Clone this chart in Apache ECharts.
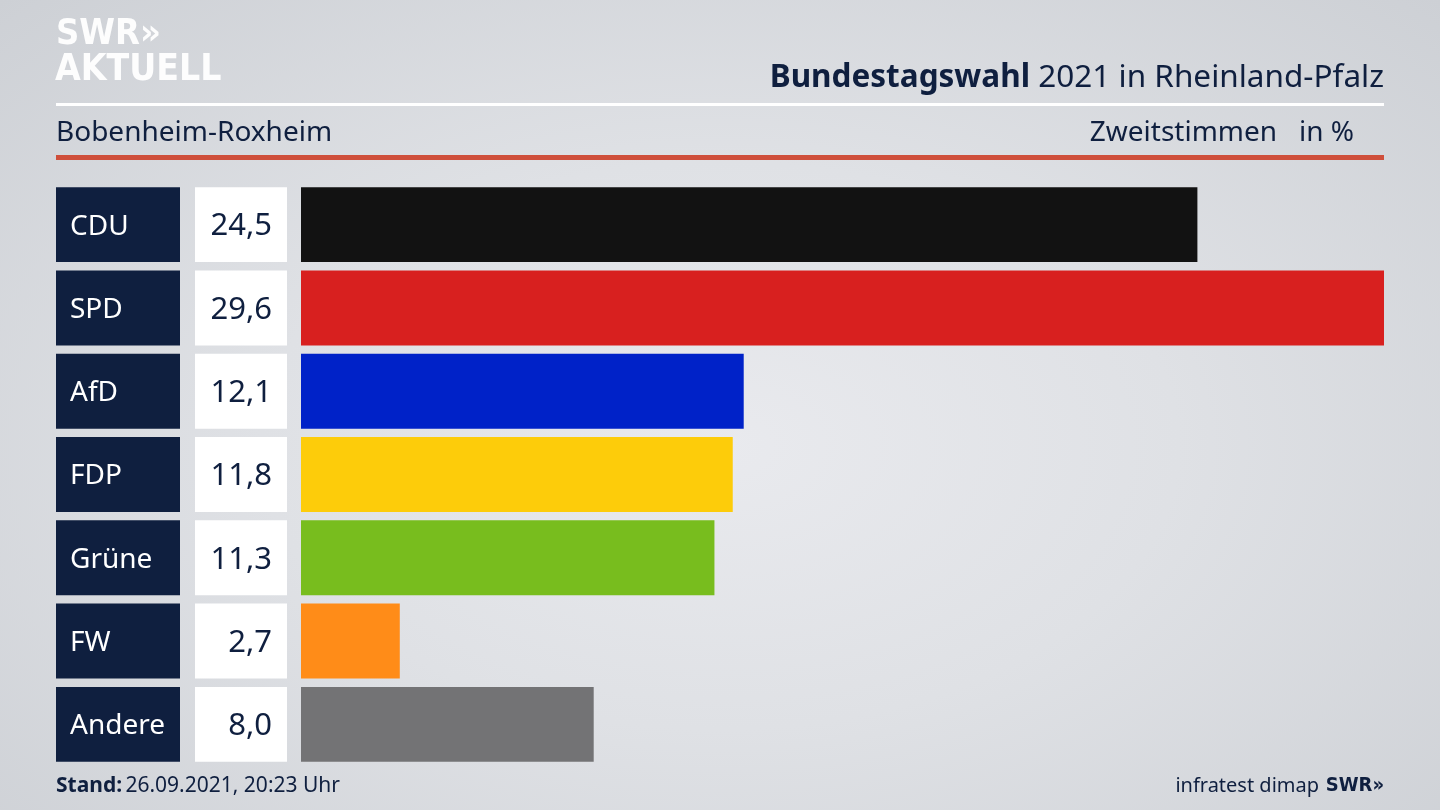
<!DOCTYPE html>
<html><head><meta charset="utf-8">
<script src="https://cdn.jsdelivr.net/npm/echarts@6/dist/echarts.min.js"></script>
<style>
html,body{margin:0;padding:0;width:1440px;height:810px;overflow:hidden;}
#c{width:1440px;height:810px;background:radial-gradient(ellipse at 50% 55%, #e9eaee 0%, #dfe1e5 45%, #cdd0d5 100%);}
</style></head>
<body><div id="c"></div>
<script>
const parties = ['CDU','SPD','AfD','FDP','Grüne','FW','Andere'];
const values = [24.5, 29.6, 12.1, 11.8, 11.3, 2.7, 8.0];
const colors = ['#121212','#d8201f','#0022c8','#fdcc0a','#78bd1e','#ff8c18','#737375'];
const title = 'Bundestagswahl';
const subtitle = ' 2021 in Rheinland-Pfalz';
const place = 'Bobenheim-Roxheim';
const measure = 'Zweitstimmen   in %';
const stand = '26.09.2021, 20:23 Uhr';

(function(){
const NAVY = '#0f1f3f';
const FONT = '"Noto Sans", "Open Sans", sans-serif';
const fmt = v => v.toFixed(1).replace('.', ',');
const chart = echarts.init(document.getElementById('c'), null, {renderer:'canvas'});
const gTop = 183, gBottom = 44;
const yCommon = {type:'category', data:parties, inverse:true, show:false};
const xOne = {type:'value', min:0, max:1, show:false};
chart.setOption({
  animation:false,
  grid:[
    {left:301, right:56, top:gTop, bottom:gBottom},
    {left:56, width:124, top:gTop, bottom:gBottom},
    {left:195, width:92, top:gTop, bottom:gBottom}
  ],
  xAxis:[
    {type:'value', min:0, max:29.6, show:false, gridIndex:0},
    Object.assign({gridIndex:1}, xOne),
    Object.assign({gridIndex:2}, xOne)
  ],
  yAxis:[
    Object.assign({gridIndex:0}, yCommon),
    Object.assign({gridIndex:1}, yCommon),
    Object.assign({gridIndex:2}, yCommon)
  ],
  series:[
    {type:'bar', xAxisIndex:0, yAxisIndex:0, barCategoryGap:'10%',
     data: values.map((v,i)=>({value:v, itemStyle:{color:colors[i]}}))},
    {type:'bar', xAxisIndex:1, yAxisIndex:1, barCategoryGap:'10%',
     data: parties.map(()=>1), itemStyle:{color:NAVY},
     label:{show:true, position:'insideLeft', distance:14, offset:[0,2], color:'#ffffff', fontSize:28, fontFamily:FONT,
            formatter:p=>parties[p.dataIndex]}},
    {type:'bar', xAxisIndex:2, yAxisIndex:2, barCategoryGap:'10%',
     data: values.map(()=>1), itemStyle:{color:'#ffffff'},
     label:{show:true, position:'insideRight', distance:15, offset:[0,2], color:NAVY, fontSize:31, fontFamily:FONT,
            formatter:p=>fmt(values[p.dataIndex])}}
  ],
  graphic:[
    {type:'text', left:56, top:17, style:{text:'SWR»', fill:'rgba(255,255,255,0.95)', font:'bold 36px "DejaVu Sans Condensed", "DejaVu Sans", sans-serif'}},
    {type:'text', left:55, top:52, style:{text:'AKTUELL', fill:'rgba(255,255,255,0.95)', font:'bold 37px "DejaVu Sans Condensed", "DejaVu Sans", sans-serif'}},
    {type:'text', right:56, top:62, style:{rich:{b:{font:'bold 31.5px '+FONT, fill:NAVY}, r:{font:'31.5px '+FONT, fill:NAVY}}, text:'{b|'+title+'}{r|'+subtitle+'}'}},
    {type:'rect', shape:{x:56, y:103, width:1328, height:3}, style:{fill:'#ffffff'}},
    {type:'text', left:56, top:119, style:{text:place, font:'28px '+FONT, fill:NAVY}},
    {type:'text', right:86, top:119, style:{text:measure, font:'28px '+FONT, fill:NAVY}},
    {type:'rect', shape:{x:56, y:155, width:1328, height:5}, style:{fill:'#cf4f3b'}},
    {type:'text', left:56, top:776, style:{rich:{b:{font:'bold 21px '+FONT, fill:NAVY}, r:{font:'21px '+FONT, fill:NAVY}}, text:'{b|Stand:} {r|'+stand+'}'}},
    {type:'text', right:56, top:776, style:{rich:{r:{font:'20px '+FONT, fill:NAVY}, b:{font:'bold 20px "DejaVu Sans Condensed", sans-serif', fill:NAVY}}, text:'{r|infratest dimap}  {b|SWR»}'}}
  ]
});
})();
</script></body></html>
